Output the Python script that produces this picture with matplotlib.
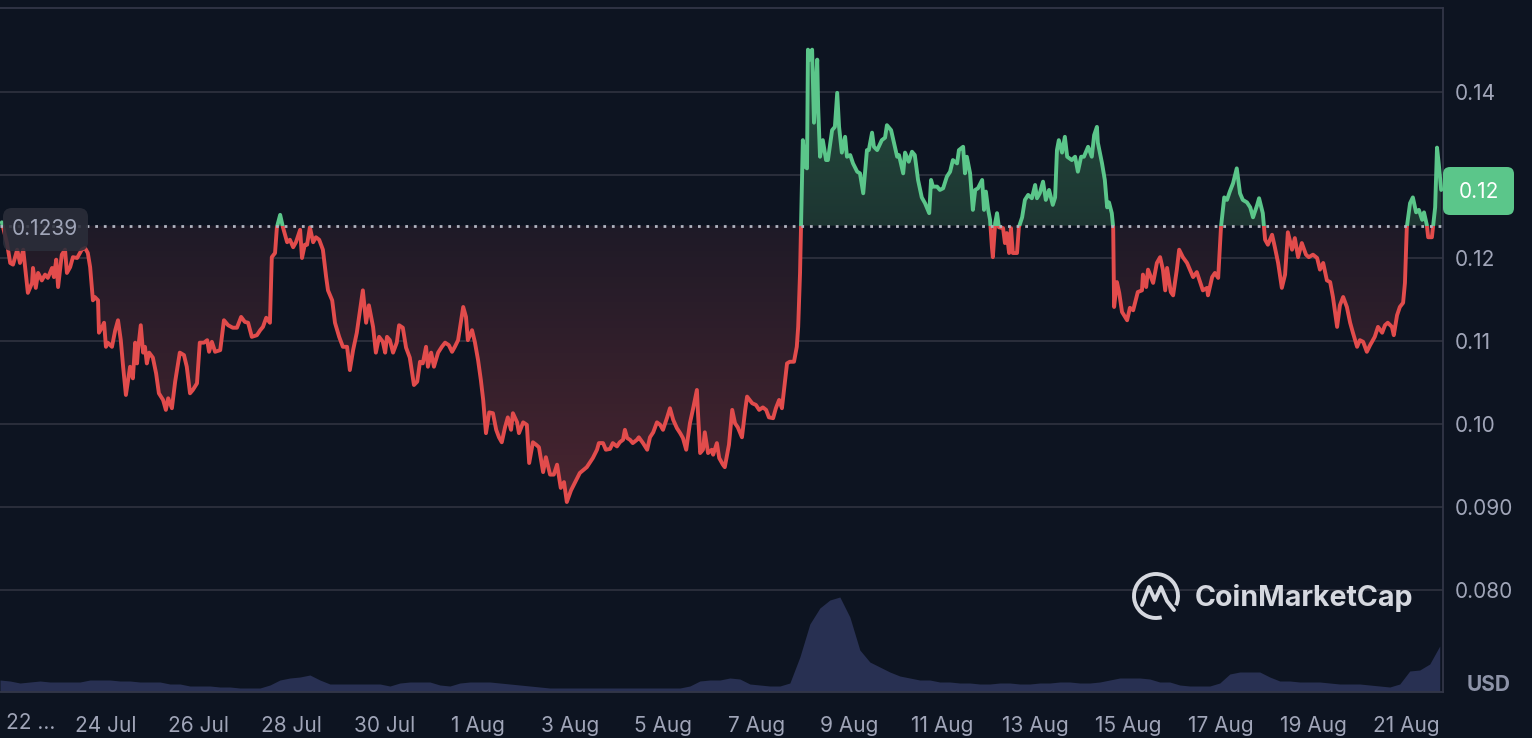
import numpy as np
import matplotlib
matplotlib.use("Agg")
import matplotlib.pyplot as plt
from matplotlib.patches import Rectangle, FancyBboxPatch, Arc
from matplotlib.path import Path
from matplotlib.patches import PathPatch
import matplotlib.transforms as mtransforms

plt.rcParams['font.family'] = ['Inter', 'DejaVu Sans']

# ---------------- data ----------------
# time in days since 21 Jul 00:00
price_t = [
    0.76, 0.87, 0.94, 1.00, 1.09, 1.15, 1.22, 1.26, 1.32, 1.41, 1.43, 1.49, 1.54, 1.62, 1.69, 1.75,
    1.84, 1.88, 1.93, 1.97, 2.05, 2.12, 2.16, 2.23, 2.29, 2.38, 2.48, 2.55, 2.61, 2.66, 2.72, 2.76,
    2.83, 2.85, 2.92, 2.96, 3.00, 3.04, 3.13, 3.20, 3.26, 3.32, 3.37, 3.43, 3.52, 3.58, 3.63, 3.67,
    3.69, 3.75, 3.80, 3.84, 3.88, 3.93, 4.01, 4.08, 4.14, 4.23, 4.29, 4.34, 4.42, 4.49, 4.59, 4.68,
    4.74, 4.81, 4.87, 4.96, 5.02, 5.11, 5.18, 5.22, 5.28, 5.35, 5.46, 5.54, 5.63, 5.73, 5.82, 5.91,
    5.99,
    6.06, 6.14, 6.25, 6.32, 6.38, 6.45, 6.53, 6.57, 6.64, 6.68, 6.75, 6.81, 6.90, 6.96, 7.03, 7.09,
    7.18, 7.22, 7.28, 7.33, 7.39, 7.46, 7.52, 7.59, 7.67, 7.74, 7.78, 7.87, 7.93, 8.02, 8.10, 8.19,
    8.25, 8.32, 8.40, 8.47, 8.53, 8.60, 8.66, 8.75, 8.81, 8.88, 8.96, 9.01, 9.05, 9.11, 9.18, 9.26,
    9.31, 9.39, 9.46, 9.54, 9.63, 9.70, 9.76, 9.82, 9.89, 9.93, 10.00, 10.06, 10.15, 10.23, 10.30,
    10.38, 10.45, 10.51, 10.58, 10.69, 10.75, 10.79, 10.88, 10.94, 11.01,
    11.07, 11.12, 11.18, 11.25, 11.33, 11.40, 11.46, 11.52, 11.59, 11.65, 11.72, 11.76, 11.85, 11.89,
    11.98, 12.06, 12.11, 12.19, 12.26, 12.32, 12.41, 12.47, 12.56, 12.64, 12.71, 12.79, 12.86, 12.92,
    13.01, 13.10, 13.20, 13.35, 13.48, 13.57, 13.61, 13.70, 13.76, 13.85, 13.91, 14.00, 14.06, 14.13,
    14.17, 14.22, 14.28, 14.34, 14.43, 14.47, 14.56, 14.65, 14.71, 14.78, 14.86, 14.93, 14.99, 15.08,
    15.14, 15.21, 15.29, 15.36, 15.42, 15.49, 15.57, 15.64, 15.72, 15.74, 15.79, 15.85, 15.89, 15.96,
    16.04, 16.07, 16.15, 16.20, 16.28, 16.32,
    16.41, 16.48, 16.54, 16.60, 16.69, 16.76, 16.80, 16.91, 16.99, 17.06, 17.14, 17.21, 17.27, 17.36,
    17.42, 17.49, 17.55, 17.62, 17.66, 17.72, 17.81, 17.87, 17.90, 17.94, 17.96, 18.00, 18.05, 18.09,
    18.11, 18.15, 18.20, 18.24, 18.31, 18.33, 18.37, 18.43, 18.50, 18.54, 18.63, 18.69, 18.74, 18.78,
    18.84, 18.91, 18.95, 19.02, 19.08, 19.17, 19.23, 19.30, 19.38, 19.42, 19.49, 19.53, 19.60, 19.70,
    19.77, 19.81, 19.90, 19.96, 20.03, 20.07, 20.16, 20.20, 20.28, 20.35, 20.41, 20.48, 20.56, 20.63,
    20.72, 20.76, 20.80, 20.89, 20.95, 21.02, 21.10, 21.17, 21.23, 21.32, 21.36, 21.45,
    21.49, 21.53, 21.60, 21.66, 21.71, 21.77, 21.86, 21.90, 21.94, 21.99, 22.03, 22.07, 22.09, 22.14,
    22.18, 22.22, 22.31, 22.35, 22.39, 22.44, 22.48, 22.52, 22.61, 22.65, 22.72, 22.78, 22.85, 22.93,
    23.00, 23.04, 23.10, 23.17, 23.23, 23.30, 23.38, 23.43, 23.47, 23.51, 23.58, 23.64, 23.69, 23.79,
    23.86, 23.92, 23.99, 24.05, 24.14, 24.22, 24.27, 24.33, 24.35, 24.44, 24.50, 24.55, 24.59, 24.65,
    24.68, 24.70, 24.76, 24.81, 24.87, 24.98, 25.04, 25.11, 25.15, 25.21, 25.30, 25.32, 25.39, 25.43,
    25.54, 25.62, 25.69, 25.75, 25.80, 25.84, 25.92, 25.97, 26.05, 26.10, 26.18, 26.27, 26.33, 26.40,
    26.48, 26.55,
    26.61, 26.70, 26.72, 26.81, 26.87, 26.94, 27.00, 27.07, 27.13, 27.19, 27.26, 27.34, 27.41, 27.47,
    27.56, 27.63, 27.69, 27.78, 27.82, 27.90, 27.95, 28.01, 28.10, 28.16, 28.23, 28.31, 28.38, 28.44,
    28.53, 28.59, 28.66, 28.74, 28.83, 28.89, 28.98, 29.07, 29.13, 29.20, 29.28, 29.35, 29.41, 29.50,
    29.56, 29.63, 29.71, 29.78, 29.84, 29.93, 29.99, 30.06, 30.14, 30.21, 30.31, 30.38, 30.47, 30.53,
    30.59, 30.68, 30.72, 30.79, 30.85, 30.92, 30.96, 31.00, 31.07, 31.13, 31.20, 31.26, 31.33, 31.37,
    31.43, 31.46, 31.54, 31.61, 31.65, 31.69, 31.74,
]
price = [
    0.1243, 0.1218, 0.1194, 0.1192, 0.1210, 0.1194, 0.1210, 0.1189, 0.1158, 0.1170, 0.1188, 0.1164,
    0.1182, 0.1173, 0.1180, 0.1176, 0.1188, 0.1177, 0.1198, 0.1165, 0.1204, 0.1210, 0.1182, 0.1189,
    0.1201, 0.1200, 0.1210, 0.1212, 0.1206, 0.1189, 0.1149, 0.1153, 0.1149, 0.1110, 0.1117, 0.1122,
    0.1093, 0.1098, 0.1093, 0.1113, 0.1125, 0.1101, 0.1069, 0.1035, 0.1069, 0.1055, 0.1098, 0.1073,
    0.1089, 0.1119, 0.1086, 0.1093, 0.1073, 0.1086, 0.1080, 0.1061, 0.1037, 0.1029, 0.1017, 0.1031,
    0.1019, 0.1051, 0.1086, 0.1083, 0.1069, 0.1037, 0.1041, 0.1049, 0.1098, 0.1098, 0.1101, 0.1087,
    0.1099, 0.1087, 0.1089, 0.1125, 0.1119, 0.1116, 0.1116, 0.1129, 0.1123,
    0.1122, 0.1105, 0.1107, 0.1113, 0.1117, 0.1128, 0.1122, 0.1201, 0.1206, 0.1237, 0.1252, 0.1237,
    0.1219, 0.1222, 0.1213, 0.1219, 0.1234, 0.1200, 0.1216, 0.1216, 0.1237, 0.1219, 0.1225, 0.1222,
    0.1210, 0.1177, 0.1161, 0.1149, 0.1122, 0.1105, 0.1093, 0.1093, 0.1065, 0.1089, 0.1110, 0.1137,
    0.1161, 0.1122, 0.1143, 0.1117, 0.1086, 0.1105, 0.1099, 0.1086, 0.1105, 0.1101, 0.1086, 0.1098,
    0.1119, 0.1116, 0.1092, 0.1080, 0.1047, 0.1051, 0.1075, 0.1073, 0.1093, 0.1069, 0.1086, 0.1069,
    0.1086, 0.1093, 0.1098, 0.1095, 0.1087, 0.1093, 0.1101, 0.1141, 0.1129, 0.1101, 0.1113, 0.1099,
    0.1077,
    0.1053, 0.1029, 0.0989, 0.1014, 0.1013, 0.0993, 0.0984, 0.0978, 0.0996, 0.1008, 0.0993, 0.1013,
    0.1002, 0.0989, 0.1002, 0.0999, 0.0953, 0.0978, 0.0975, 0.0972, 0.0942, 0.0960, 0.0939, 0.0939,
    0.0951, 0.0923, 0.0930, 0.0906, 0.0920, 0.0930, 0.0941, 0.0948, 0.0959, 0.0969, 0.0977, 0.0977,
    0.0969, 0.0970, 0.0977, 0.0973, 0.0978, 0.0981, 0.0993, 0.0983, 0.0981, 0.0977, 0.0981, 0.0984,
    0.0977, 0.0969, 0.0984, 0.0990, 0.1002, 0.0999, 0.0993, 0.1008, 0.1019, 0.1005, 0.0995, 0.0989,
    0.0983, 0.0969, 0.1001, 0.1019, 0.1041, 0.1017, 0.0965, 0.0969, 0.0990, 0.0965, 0.0969, 0.0963,
    0.0977, 0.0959, 0.0951, 0.0948,
    0.0975, 0.1017, 0.1001, 0.0996, 0.0984, 0.1017, 0.1033, 0.1025, 0.1023, 0.1017, 0.1020, 0.1017,
    0.1008, 0.1007, 0.1019, 0.1029, 0.1019, 0.1053, 0.1073, 0.1075, 0.1075, 0.1093, 0.1117, 0.1182,
    0.1237, 0.1342, 0.1310, 0.1308, 0.1451, 0.1439, 0.1451, 0.1363, 0.1439, 0.1382, 0.1322, 0.1342,
    0.1318, 0.1318, 0.1354, 0.1358, 0.1399, 0.1358, 0.1327, 0.1346, 0.1322, 0.1324, 0.1314, 0.1304,
    0.1302, 0.1278, 0.1330, 0.1330, 0.1351, 0.1334, 0.1330, 0.1342, 0.1345, 0.1360, 0.1354, 0.1339,
    0.1322, 0.1324, 0.1302, 0.1327, 0.1316, 0.1328, 0.1324, 0.1294, 0.1273, 0.1266, 0.1254, 0.1294,
    0.1286, 0.1286, 0.1282, 0.1284, 0.1298, 0.1304, 0.1318, 0.1314, 0.1330, 0.1334,
    0.1302, 0.1322, 0.1302, 0.1258, 0.1282, 0.1284, 0.1294, 0.1258, 0.1280, 0.1258, 0.1246, 0.1213,
    0.1201, 0.1242, 0.1254, 0.1237, 0.1236, 0.1218, 0.1230, 0.1206, 0.1236, 0.1206, 0.1206, 0.1237,
    0.1249, 0.1270, 0.1276, 0.1272, 0.1288, 0.1272, 0.1278, 0.1292, 0.1270, 0.1282, 0.1264, 0.1273,
    0.1330, 0.1342, 0.1327, 0.1346, 0.1322, 0.1318, 0.1322, 0.1304, 0.1322, 0.1322, 0.1334, 0.1322,
    0.1348, 0.1358, 0.1339, 0.1314, 0.1294, 0.1261, 0.1267, 0.1254, 0.1237, 0.1141, 0.1171, 0.1158,
    0.1135, 0.1125, 0.1140, 0.1137, 0.1146, 0.1159, 0.1161, 0.1180, 0.1165, 0.1186, 0.1170, 0.1194,
    0.1201, 0.1186, 0.1161, 0.1188, 0.1159, 0.1155, 0.1186, 0.1210, 0.1201, 0.1194, 0.1186, 0.1177,
    0.1183, 0.1171,
    0.1161, 0.1164, 0.1155, 0.1177, 0.1182, 0.1176, 0.1237, 0.1273, 0.1270, 0.1280, 0.1290, 0.1308,
    0.1278, 0.1270, 0.1267, 0.1261, 0.1249, 0.1264, 0.1272, 0.1254, 0.1222, 0.1216, 0.1228, 0.1213,
    0.1194, 0.1164, 0.1180, 0.1231, 0.1210, 0.1224, 0.1201, 0.1218, 0.1204, 0.1201, 0.1204, 0.1200,
    0.1186, 0.1194, 0.1173, 0.1171, 0.1153, 0.1117, 0.1143, 0.1153, 0.1141, 0.1122, 0.1110, 0.1093,
    0.1101, 0.1099, 0.1087, 0.1095, 0.1105, 0.1117, 0.1110, 0.1119, 0.1122, 0.1117, 0.1107, 0.1131,
    0.1141, 0.1146, 0.1170, 0.1237, 0.1266, 0.1273, 0.1255, 0.1258, 0.1246, 0.1255, 0.1240, 0.1225,
    0.1225, 0.1261, 0.1333, 0.1312, 0.1282,
]
baseline_price = 0.1239
baseline_text = "0.1239"
current_text = "0.12"

# volume (relative units), sampled every vol_dt days starting at vol_t0
vol_t0 = 0.72
vol_dt = 0.2152
volume = [
    12, 11, 9, 10, 11, 10, 10, 10, 10, 12,
    12, 12, 11, 11, 10, 10, 10, 8, 8, 6,
    6, 6, 5, 5, 4, 4, 4, 7, 12, 14,
    15, 17, 12, 8, 8, 8, 8, 8, 8, 6,
    9, 10, 10, 10, 7, 6, 9, 10, 10, 10,
    9, 8, 7, 6, 5, 4, 4, 4, 4, 4,
    4, 4, 4, 4, 4, 4, 4, 4, 4, 6,
    11, 12, 12, 14, 13, 8, 7, 6, 6, 9,
    35, 68, 84, 92, 95, 75, 42, 30, 25, 20,
    16, 14, 12, 12, 10, 10, 9, 9, 8, 8,
    9, 9, 8, 8, 9, 9, 10, 10, 9, 9,
    10, 12, 14, 14, 14, 13, 10, 10, 7, 6,
    6, 6, 9, 18, 20, 20, 20, 15, 11, 11,
    10, 10, 10, 9, 8, 8, 8, 7, 6, 5,
    8, 21, 22, 28, 46,
]

ytick_vals = [0.08, 0.09, 0.10, 0.11, 0.12, 0.13, 0.14]
ytick_labels = ["0.080", "0.090", "0.10", "0.11", "0.12", "", "0.14"]
xtick_days = [3, 5, 7, 9, 11, 13, 15, 17, 19, 21, 23, 25, 27, 29, 31]
xtick_labels = ["24 Jul", "26 Jul", "28 Jul", "30 Jul", "1 Aug", "3 Aug", "5 Aug", "7 Aug",
                "9 Aug", "11 Aug", "13 Aug", "15 Aug", "17 Aug", "19 Aug", "21 Aug"]
first_xlabel = "22 ..."

# ---------------- style ----------------
BG = "#0d1421"
GRID = "#2a2e3b"
SPINE = "#323647"
GREEN = "#5bc68a"
RED = "#e24c4c"
TXT = "#a0a5b8"
VOLC = "#283052"

W, H = 1532, 738
fig = plt.figure(figsize=(W / 100, H / 100), dpi=100, facecolor=BG)
rect = [0, 46 / H, 1443 / W, 684 / H]
axv = fig.add_axes(rect, zorder=0)
ax = fig.add_axes(rect, zorder=1)
ax.patch.set_visible(False)
axv.set_facecolor(BG)

t = np.array(price_t)
p = np.array(price)
XMIN, XMAX = 0.72, 0.72 + 1443 / 46.46
YMIN, YMAX = 0.12 - 434 / 8300, 0.12 + 250 / 8300

# volume
vt = vol_t0 + vol_dt * np.arange(len(volume))
axv.fill_between(vt, 0, volume, color=VOLC, lw=0)
axv.set_xlim(XMIN, XMAX)
axv.set_ylim(0, 684)
axv.axis("off")


def gradient_fill(where, c_near, c_far, y_near, y_far):
    coll = ax.fill_between(t, p, baseline_price, where=where, interpolate=True,
                           facecolor="none", edgecolor="none")
    paths = coll.get_paths()
    if not paths:
        return
    cp = Path.make_compound_path(*paths)
    n = 256
    f = np.linspace(0, 1, n)[:, None]
    c0 = np.array(matplotlib.colors.to_rgb(c_near))
    c1 = np.array(matplotlib.colors.to_rgb(c_far))
    col = c0[None, :] * (1 - f) + c1[None, :] * f
    arr = np.repeat(col[:, None, :], 2, axis=1)
    lo, hi = min(y_near, y_far), max(y_near, y_far)
    if y_near > y_far:
        arr = arr[::-1]
    im = ax.imshow(arr, extent=[XMIN, XMAX, lo, hi], origin="lower", aspect="auto",
                   interpolation="bilinear", zorder=1)
    im.set_clip_path(cp, transform=ax.transData)


gradient_fill(p <= baseline_price, "#1e1a27", "#4a2530", baseline_price, 0.09)
gradient_fill(p >= baseline_price, "#1d3532", "#25503f", baseline_price, 0.145)

# price line split at the baseline
big = 1.0
for color, y0 in ((GREEN, baseline_price), (RED, baseline_price - big)):
    ln, = ax.plot(t, p, color=color, lw=2.8, solid_joinstyle="round", solid_capstyle="round", zorder=3)
    clip = Rectangle((XMIN - 5, y0), XMAX - XMIN + 10, big, transform=ax.transData)
    ln.set_clip_path(clip)

# dotted baseline
ax.axhline(baseline_price, color="#b0b4c0", lw=2.0, ls=(0, (1, 2.1)), zorder=4)

ax.set_xlim(XMIN, XMAX)
ax.set_ylim(YMIN, YMAX)

ax.set_yticks(ytick_vals)
ax.set_yticklabels(ytick_labels)
ax.yaxis.tick_right()
ax.tick_params(axis="y", length=0, pad=8.5, labelsize=15, labelcolor=TXT)
ax.set_xticks(xtick_days)
ax.set_xticklabels(xtick_labels)
ax.tick_params(axis="x", length=0, pad=17.5, labelsize=15, labelcolor=TXT)
ax.grid(axis="y", color=GRID, lw=1.4, zorder=0)
ax.set_axisbelow(True)
ax.spines["left"].set_visible(False)
for s in ("top", "right", "bottom"):
    ax.spines[s].set_color(SPINE)
    ax.spines[s].set_linewidth(1.3)

ident = mtransforms.IdentityTransform()


def px(x, y):
    return x, H - y


# first (truncated) x label
fig.text(6 / W, 1 - 723 / H, first_xlabel, ha="left", va="center", fontsize=15, color=TXT)

# baseline label box
bx, by = px(3, 251)
fig.add_artist(FancyBboxPatch((bx, by), 85, 43, boxstyle="round,pad=0,rounding_size=9",
                              transform=ident, fc="#2b2e3a", ec="none", alpha=0.88, zorder=5))
fig.text(12 / W, 1 - 229 / H, baseline_text, ha="left", va="center", fontsize=15, color=TXT, zorder=6)

# current price box
cx, cy = px(1443, 215)
fig.add_artist(FancyBboxPatch((cx, cy), 71, 48, boxstyle="round,pad=0,rounding_size=7",
                              transform=ident, fc=GREEN, ec="none", zorder=5))
fig.text(1478.5 / W, 1 - 192 / H, current_text, ha="center", va="center", fontsize=15,
         color="white", zorder=6)

# USD unit
fig.text(1467 / W, 1 - 685 / H, "USD", ha="left", va="center", fontsize=15, color="#8d93a8",
         weight="bold")

# watermark
WM = "#d5d8df"
lx, ly = px(1156, 596)
fig.add_artist(Arc((lx, ly), 44, 44, theta1=-25, theta2=285, transform=ident, color=WM, lw=2.8, zorder=5))
mpts = [(-14, -9), (-7, 9), (-1, -4), (5, 9), (11, -5), (18, -14)]
verts = [(lx + a, ly + b) for a, b in mpts]
fig.add_artist(PathPatch(Path(verts), transform=ident, fc="none", ec=WM, lw=2.8,
                         joinstyle="round", capstyle="round", zorder=5))
fig.text(1195 / W, 1 - 598 / H, "CoinMarketCap", ha="left", va="center", fontsize=20.6,
         color=WM, weight="bold", zorder=6)

fig.savefig("out.png", dpi=100, facecolor=BG)
